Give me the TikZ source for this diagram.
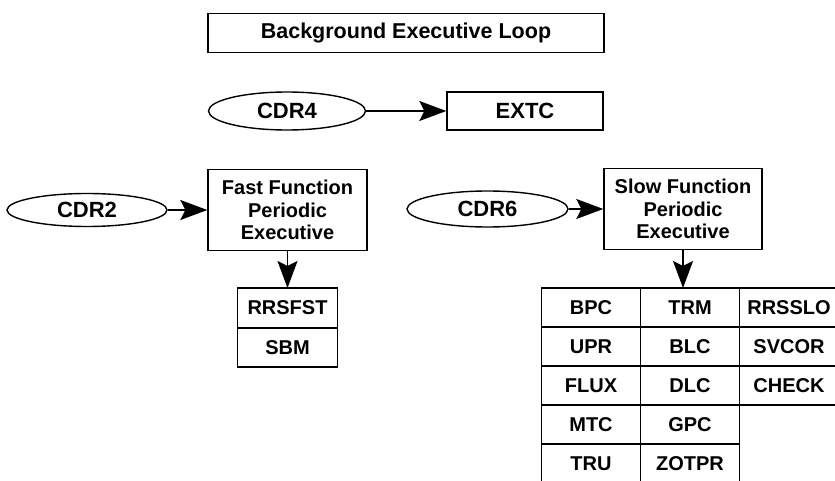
\documentclass[tikz,border=0pt]{standalone}
\usepackage{fontspec}
\setmainfont{Liberation Sans}
\usetikzlibrary{arrows.meta,shapes.geometric,positioning}

\begin{document}
\begin{tikzpicture}[
        x=1pt,
        y=-1pt,
        line width=1.4pt,
        box/.style={draw, rectangle, inner sep=0pt, align=center,
            font=\fontsize{20}{22.5}\selectfont\bfseries},
        rate/.style={draw, ellipse, inner sep=0pt, minimum width=160pt,
            font=\fontsize{22}{24}\selectfont\bfseries},
        cell/.style={draw, rectangle, inner sep=0pt, outer sep=0pt,
            minimum width=99pt, minimum height=39pt,
            font=\fontsize{20}{22}\selectfont\bfseries},
        >={Stealth[length=27pt, width=20pt, inset=5pt]}
    ]
        \useasboundingbox (0,0) rectangle (835,481);

        % background loop
        \node[box, minimum width=396pt, minimum height=39pt,
            font=\fontsize{21.5}{24}\selectfont\bfseries] (bel) at (406,33) {Background Executive Loop};

        % CDR4 -> EXTC
        \node[rate, minimum width=157pt, minimum height=38pt] (cdr4) at (287,111) {CDR4};
        \node[box, minimum width=156pt, minimum height=38pt,
            font=\fontsize{22}{24}\selectfont\bfseries] (extc) at (525,111) {EXTC};
        \draw[->] (cdr4) -- (extc);

        % fast function executive
        \node[rate, minimum height=33pt] (cdr2) at (87,210) {CDR2};
        \node[box, minimum width=159pt, minimum height=81pt] (ffpe) at (287.5,210) {Fast Function\\Periodic\\Executive};
        \draw[->] (cdr2) -- (ffpe);

        \node[cell, minimum width=100pt, minimum height=40pt] (rrsfst) at (287.5,308) {RRSFST};
        \node[cell, minimum width=100pt, below=0pt of rrsfst] (sbm) {SBM};
        \draw[->] (ffpe) -- (rrsfst);

        % slow function executive
        \node[rate, minimum width=161pt, minimum height=36pt] (cdr6) at (487.5,209) {CDR6};
        \node[box, minimum width=158pt, minimum height=81pt] (sfpe) at (683,209) {Slow Function\\Periodic\\Executive};
        \draw[->] (cdr6) -- (sfpe);

        \foreach \lab/\col/\row in {
            BPC/1/1, TRM/2/1, RRSSLO/3/1,
            UPR/1/2, BLC/2/2, SVCOR/3/2,
            FLUX/1/3, DLC/2/3, CHECK/3/3,
            MTC/1/4, GPC/2/4,
            TRU/1/5, ZOTPR/2/5
        }{
            \node[cell] (\lab) at ({492+99*\col},{268.5+39*\row}) {\lab};
        }
        \draw[->] (sfpe.south) -- (sfpe.south |- TRM.north);
    \end{tikzpicture}
\end{document}
